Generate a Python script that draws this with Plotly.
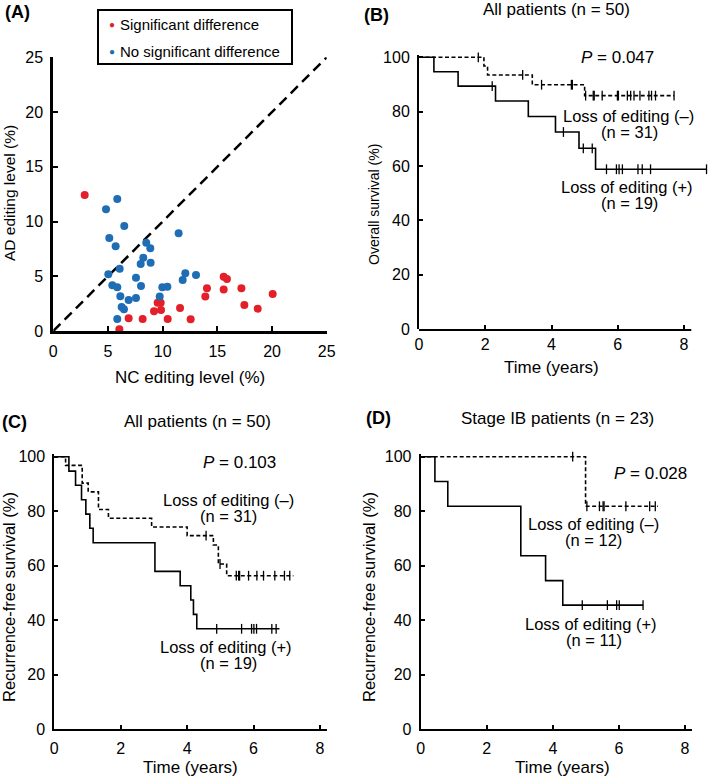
'''
    Four-panel figure: editing level scatter (A) and
    Kaplan-Meier curves for loss of editing (B, C, D).
'''

import plotly.graph_objects as go

W, H = 709, 776
FONT = "Liberation Sans, Arial, sans-serif"
RED = "#e3202a"
BLUE = "#1f6db5"

# ---- (A) editing levels, NC vs AD (%) ----
sig_nc = [2.87, 6.04, 6.89, 8.17, 9.21, 9.54, 9.82, 9.85, 10.46, 11.59,
          12.56, 13.9, 14.05, 15.58, 15.88, 15.58, 17.2, 17.47, 18.69, 20.06]
sig_ad = [12.42, 0.15, 1.16, 1.10, 1.80, 2.59, 2.59, 1.92, 1.10, 2.10,
          1.07, 3.14, 3.9, 4.96, 4.75, 3.78, 3.9, 2.38, 2.04, 3.38]
ns_nc = [4.82, 5.85, 6.49, 5.12, 5.7, 8.5, 8.87, 8.23, 7.99, 8.9, 11.46,
         6.07, 5.03, 5.4, 5.85, 6.13, 6.25, 6.46, 5.85, 6.89, 7.56, 7.56,
         8.02, 9.73, 9.97, 10.43, 11.83, 12.07, 13.05]
ns_ad = [11.11, 12.06, 9.59, 8.5, 7.73, 8.07, 7.55, 6.70, 6.12, 6.24, 8.92,
         5.69, 5.18, 4.17, 3.99, 3.17, 2.19, 1.98, 1.10, 2.83, 3.01, 4.87,
         4.11, 3.14, 3.99, 4.05, 4.66, 5.27, 5.12]
a_range = [0, 25]
a_ticks = [0, 5, 10, 15, 20, 25]

# ---- (B) overall survival, all patients ----
b_neg_times = [1.96, 2.07, 3.42, 5.0]
b_neg_surv = [96.8, 93.5, 89.9, 85.9]
b_neg_end = 7.70
b_neg_cens = [1.79, 3.13, 3.70, 4.60, 4.63, 5.03, 5.26, 5.29, 5.53, 5.99,
              6.02, 6.29, 6.39, 6.49, 6.67, 6.94, 7.02, 7.14, 7.70]
b_pos_times = [0.45, 1.18, 2.31, 3.30, 4.12, 4.83, 5.33]
b_pos_surv = [94.7, 89.4, 83.9, 78.2, 72.5, 66.5, 58.8]
b_pos_end = 8.68
b_pos_cens = [2.21, 4.36, 4.96, 5.23, 5.66, 5.96, 6.04, 6.14, 6.61, 6.74,
              6.99, 8.68]

# ---- (C) recurrence-free survival, all patients ----
c_neg_times = [0.34, 0.84, 1.02, 1.33, 1.63, 2.93, 4.0, 4.79, 4.94, 5.19]
c_neg_surv = [96.8, 90.3, 87.1, 80.6, 77.4, 74.2, 71.0, 67.6, 60.6, 56.3]
c_neg_end = 7.20
c_neg_cens = [4.57, 4.99, 5.48, 5.55, 5.58, 5.85, 6.1, 6.3, 6.64, 6.93, 7.09]
c_pos_times = [0.44, 0.64, 0.82, 0.95, 1.07, 1.17, 3.03, 3.79, 4.11, 4.19, 4.29]
c_pos_surv = [94.7, 89.5, 84.2, 78.9, 73.7, 68.4, 57.9, 52.6, 47.4, 42.1, 36.8]
c_pos_end = 6.78
c_pos_cens = [4.89, 5.64, 5.94, 6.01, 6.09, 6.55, 6.68]

# ---- (D) recurrence-free survival, stage IB ----
d_neg_times = [4.99]
d_neg_surv = [81.8]
d_neg_end = 7.18
d_neg_cens = [4.60, 5.03, 5.41, 5.52, 5.55, 6.21, 6.93, 7.10]
d_pos_times = [0.43, 0.82, 3.03, 3.78, 4.30]
d_pos_surv = [90.9, 81.8, 63.6, 54.5, 45.5]
d_pos_end = 6.73
d_pos_cens = [4.89, 5.65, 5.93, 6.01, 6.73]

km_ticks_x = [0, 2, 4, 6, 8]
km_ticks_y = [0, 20, 40, 60, 80, 100]


def pxx(p):
    return p / W


def pxy(p):
    return 1 - p / H


def step_curve(times, levels, end):
    xs = [0] + list(times) + [end]
    ys = [100] + list(levels) + [levels[-1]]
    return xs, ys


def surv_at(t, times, levels):
    s = 100
    for ti, li in zip(times, levels):
        if t >= ti:
            s = li
    return s


def add_km(fig, times, levels, end, cens, dashed, ax):
    xs, ys = step_curve(times, levels, end)
    fig.add_trace(go.Scatter(
        x=xs, y=ys, mode="lines", line_shape="hv", showlegend=False,
        line=dict(color="black", width=1.6,
                  dash="4px,2.5px" if dashed else "solid"),
        xaxis="x" + ax, yaxis="y" + ax, hoverinfo="skip"))
    fig.add_trace(go.Scatter(
        x=cens, y=[surv_at(t, times, levels) for t in cens],
        mode="markers", showlegend=False, cliponaxis=False,
        marker=dict(symbol="line-ns-open", size=7, color="black",
                    line=dict(width=1.3, color="black")),
        xaxis="x" + ax, yaxis="y" + ax))


fig = go.Figure()

# (A) scatter
fig.add_trace(go.Scatter(
    x=a_range, y=a_range, mode="lines", showlegend=False,
    line=dict(color="black", width=2.5, dash="10px,6px"),
    xaxis="x", yaxis="y"))
fig.add_trace(go.Scatter(
    x=sig_nc, y=sig_ad, mode="markers", name="Significant difference",
    marker=dict(color=RED, size=8), cliponaxis=False, showlegend=False,
    xaxis="x", yaxis="y"))
fig.add_trace(go.Scatter(
    x=ns_nc, y=ns_ad, mode="markers", name="No significant difference",
    marker=dict(color=BLUE, size=8), cliponaxis=False, showlegend=False,
    xaxis="x", yaxis="y"))

add_km(fig, b_neg_times, b_neg_surv, b_neg_end, b_neg_cens, True, "2")
add_km(fig, b_pos_times, b_pos_surv, b_pos_end, b_pos_cens, False, "2")
add_km(fig, c_neg_times, c_neg_surv, c_neg_end, c_neg_cens, True, "3")
add_km(fig, c_pos_times, c_pos_surv, c_pos_end, c_pos_cens, False, "3")
add_km(fig, d_neg_times, d_neg_surv, d_neg_end, d_neg_cens, True, "4")
add_km(fig, d_pos_times, d_pos_surv, d_pos_end, d_pos_cens, False, "4")

tickfont = dict(family=FONT, size=16, color="black")
base = dict(showgrid=False, zeroline=False, showline=True, linecolor="black",
            ticks="inside", tickcolor="black", tickfont=tickfont,
            ticklabelstandoff=4, fixedrange=True)

fig.update_layout(
    width=W, height=H,
    margin=dict(l=0, r=0, t=0, b=0, autoexpand=False),
    paper_bgcolor="white", plot_bgcolor="white", showlegend=False,
    font=dict(family=FONT, color="black"),
    xaxis=dict(base, domain=[pxx(53.3), pxx(326.7)], range=a_range,
               tickvals=a_ticks, linewidth=3, tickwidth=2, ticklen=5,
               anchor="y"),
    yaxis=dict(base, domain=[pxy(331), pxy(57.3)], range=a_range,
               tickvals=a_ticks, linewidth=3, tickwidth=2, ticklen=5,
               anchor="x"),
    xaxis2=dict(base, domain=[pxx(419), pxx(419 + 8.7 * 33.125)],
                range=[0, 8.7], tickvals=km_ticks_x, showline=False,
                tickwidth=1.5, ticklen=4, anchor="y2"),
    yaxis2=dict(base, domain=[pxy(329), pxy(329 - 101 * 2.717)],
                range=[0, 101], tickvals=km_ticks_y, linewidth=2,
                tickwidth=1.5, ticklen=4, anchor="x2"),
    xaxis3=dict(base, domain=[pxx(54.3), pxx(54.3 + 8.22 * 33.21)],
                range=[0, 8.22], tickvals=km_ticks_x, linewidth=2,
                tickwidth=1.5, ticklen=4, anchor="y3"),
    yaxis3=dict(base, domain=[pxy(729), pxy(729 - 101 * 2.723)],
                range=[0, 101], tickvals=km_ticks_y, linewidth=2,
                tickwidth=1.5, ticklen=4, anchor="x3"),
    xaxis4=dict(base, domain=[pxx(420.7), pxx(420.7 + 8.22 * 33.04)],
                range=[0, 8.22], tickvals=km_ticks_x, linewidth=2,
                tickwidth=1.5, ticklen=4, anchor="y4"),
    yaxis4=dict(base, domain=[pxy(729), pxy(729 - 101 * 2.723)],
                range=[0, 101], tickvals=km_ticks_y, linewidth=2,
                tickwidth=1.5, ticklen=4, anchor="x4"),
)

# x axis line of (B) stops at the last tick area while the curve runs on
fig.add_shape(type="line", xref="x2", yref="paper", x0=0, x1=8.22,
              y0=pxy(330), y1=pxy(330), line=dict(color="black", width=2))

# legend box of (A)
fig.add_shape(type="rect", xref="paper", yref="paper",
              x0=pxx(98), x1=pxx(292), y0=pxy(64), y1=pxy(10),
              line=dict(color="black", width=2), fillcolor="white")


def txt(x, y, s, size=17, angle=0, color="black", anchor="center"):
    fig.add_annotation(x=pxx(x), y=pxy(y), xref="paper", yref="paper",
                       text=s, showarrow=False, textangle=angle,
                       xanchor=anchor, yanchor="middle",
                       font=dict(family=FONT, size=size, color=color))


txt(112, 25, "●", 10, color=RED)
txt(118, 25, "Significant difference", 15, anchor="left")
txt(112, 52, "●", 10, color=BLUE)
txt(118, 52, "No significant difference", 15, anchor="left")

# panel letters
txt(17, 12, "<b>(A)</b>", 18)
txt(377, 15, "<b>(B)</b>", 18)
txt(15, 422, "<b>(C)</b>", 18)
txt(379, 418, "<b>(D)</b>", 18)

# axis titles
txt(190, 377, "NC editing level (%)")
txt(9, 193, "AD editing level (%)", 15.5, -90)
txt(551, 367, "Time (years)")
txt(374, 204, "Overall survival (%)", 14, -90)
txt(190, 767, "Time (years)")
txt(9, 597, "Recurrence-free survival (%)", 16.5, -90)
txt(562, 767, "Time (years)")
txt(369, 597, "Recurrence-free survival (%)", 16.5, -90)

# (B)
txt(556, 10, "All patients (n = 50)")
txt(617, 58, "<i>P</i> = 0.047")
txt(628, 116, "Loss of editing (–)", 16.5)
txt(629, 132, "(n = 31)", 16.5)
txt(627, 187, "Loss of editing (+)", 16.5)
txt(629, 203, "(n = 19)", 16.5)

# (C)
txt(197, 422, "All patients (n = 50)")
txt(240, 462, "<i>P</i> = 0.103")
txt(228, 500, "Loss of editing (–)", 16.5)
txt(228, 516, "(n = 31)", 16.5)
txt(226, 647, "Loss of editing (+)", 16.5)
txt(228, 663, "(n = 19)", 16.5)

# (D)
txt(557, 418, "Stage IB patients (n = 23)")
txt(650, 473, "<i>P</i> = 0.028")
txt(593, 524, "Loss of editing (–)", 16.5)
txt(593, 540, "(n = 12)", 16.5)
txt(591, 624, "Loss of editing (+)", 16.5)
txt(594, 640, "(n = 11)", 16.5)

# the page's default body margin would shift the whole figure by 8 px
fig.write_html("out.html", config={"displayModeBar": False},
               post_script="document.body.style.margin='0';")
